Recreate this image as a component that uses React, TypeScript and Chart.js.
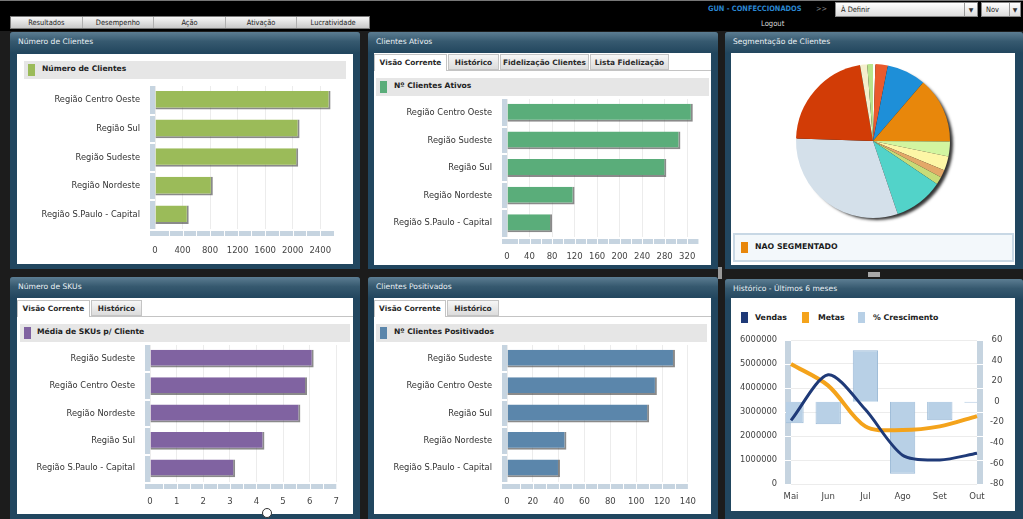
import React, { useEffect, useRef } from 'react';
import { Chart, registerables } from 'chart.js';

Chart.register(...registerables);

const FONT = "'DejaVu Sans', Verdana, sans-serif";
const NARROW = "'DejaVu Sans Condensed', 'Liberation Sans Narrow', 'DejaVu Sans', sans-serif";
Chart.defaults.font.family = FONT;

// ---------- DATA ----------
const navItems = ['Resultados', 'Desempenho', 'Ação', 'Ativação', 'Lucratividade'];

const clientesRegioes = ['Região Centro Oeste', 'Região Sul', 'Região Sudeste', 'Região Nordeste', 'Região S.Paulo - Capital'];
const clientesValores = [2550, 2100, 2080, 840, 490];

const ativosRegioes = ['Região Centro Oeste', 'Região Sudeste', 'Região Sul', 'Região Nordeste', 'Região S.Paulo - Capital'];
const ativosValores = [330, 308, 283, 120, 80];

const skuRegioes = ['Região Sudeste', 'Região Centro Oeste', 'Região Nordeste', 'Região Sul', 'Região S.Paulo - Capital'];
const skuValores = [6.15, 5.9, 5.65, 4.3, 3.2];

const positivadosRegioes = ['Região Sudeste', 'Região Centro Oeste', 'Região Sul', 'Região Nordeste', 'Região S.Paulo - Capital'];
const positivadosValores = [130, 116, 110, 46, 41];

const segmentosLabels = ['Seg 1', 'Seg 2', 'Seg 3', 'NAO SEGMENTADO', 'Seg 5', 'Seg 6', 'Seg 7', 'Seg 8', 'Seg 9', 'Seg 10', 'Seg 11', 'Seg 12', 'Seg 13'];
const segmentosValores = [5, 26, 82, 138, 31, 30, 16, 16, 104, 307, 218, 15, 12];
const segmentosCores = ['#ffffff', '#ea5a2c', '#1e8fd8', '#e8870b', '#d2f5a0', '#fdf6a6', '#e3a868', '#c8dc78', '#52d3c9', '#d4e0ea', '#d23c06', '#f4efcc', '#b9e58c'];

const meses = ['Mai', 'Jun', 'Jul', 'Ago', 'Set', 'Out'];
const vendas = [2650000, 4550000, 3100000, 1200000, 1000000, 1280000];
const metas = [5000000, 4100000, 2400000, 2250000, 2400000, 2830000];
const crescimento = [-21, -22, 50, -70, -18, -1];

// ---------- PLUGINS ----------
const STRIP = '#c6d4e0';
const stripPlugin = {
  id: 'strips',
  beforeDatasetsDraw(chart: any, _a: any, o: any) {
    if (!o || !o.mode) return;
    const { ctx, chartArea: a } = chart;
    ctx.save();
    if (o.mode === 'hbar') {
      const n = chart.data.labels.length;
      const w = 5;
      ctx.fillStyle = STRIP;
      ctx.fillRect(a.left - w, a.top, w, a.bottom - a.top);
      ctx.fillRect(a.left - w, a.bottom + 2, a.right - a.left + w, 5);
      ctx.fillStyle = '#ffffff';
      for (let k = 1; k < n; k++) {
        const y = a.top + (k * (a.bottom - a.top)) / n;
        ctx.fillRect(a.left - w, Math.round(y) - 1, w, 2);
      }
      const xs = chart.scales.x;
      for (let v = o.sep; v < xs.max; v += o.sep) {
        const x = xs.getPixelForValue(v);
        ctx.fillRect(Math.round(x), a.bottom + 2, 1, 5);
      }
    } else if (o.mode === 'combo') {
      const w = 6;
      ctx.fillStyle = STRIP;
      ctx.fillRect(a.left - w, a.top, w, a.bottom - a.top);
      ctx.fillRect(a.right, a.top, w, a.bottom - a.top);
      ctx.fillStyle = '#ffffff';
      const ys = chart.scales.y;
      ys.ticks.forEach((t: any) => {
        const y = Math.round(ys.getPixelForValue(t.value));
        ctx.fillRect(a.left - w, y, w, 1);
        ctx.fillRect(a.right, y, w, 1);
      });
    }
    ctx.restore();
  },
};

const pieShadow = {
  id: 'pieShadow',
  beforeDatasetsDraw(chart: any) {
    const arc = chart.getDatasetMeta(0).data[0];
    if (!arc) return;
    const { x, y, outerRadius } = arc.getProps(['x', 'y', 'outerRadius'], true);
    const ctx = chart.ctx;
    ctx.save();
    ctx.shadowColor = 'rgba(0,0,0,0.8)';
    ctx.shadowBlur = 3;
    ctx.shadowOffsetX = 4;
    ctx.shadowOffsetY = 3;
    ctx.beginPath();
    ctx.arc(x, y, outerRadius - 1, 0, Math.PI * 2);
    ctx.fillStyle = '#111';
    ctx.fill();
    ctx.restore();
  },
};

const plain = (v: any) => String(v);
const noPad = (s: any) => { s.paddingTop = 0; s.paddingBottom = 0; };

// ---------- CONFIG BUILDERS ----------
function hbar(labels: string[], values: number[], color: string, max: number, step: number, yWidth: number, xHeight: number, pad: any, tickPad: number) {
  return {
    type: 'bar',
    data: {
      labels,
      datasets: [
        {
          data: values,
          backgroundColor: color,
          borderColor: 'rgba(75,75,75,0.65)',
          borderWidth: { top: 0, left: 0, right: 2, bottom: 2 },
          borderSkipped: false,
          barPercentage: 0.65,
          categoryPercentage: 1,
        },
      ],
    },
    options: {
      indexAxis: 'y',
      animation: false,
      responsive: false,
      maintainAspectRatio: false,
      layout: { padding: pad },
      plugins: { legend: { display: false }, tooltip: { enabled: false }, strips: { mode: 'hbar', sep: step / 2 } },
      scales: {
        x: {
          min: 0,
          max,
          ticks: { stepSize: step, includeBounds: false, padding: tickPad, color: '#444', font: { size: 8.5 }, maxRotation: 0, callback: plain },
          grid: { color: '#ececec', drawTicks: false },
          border: { display: false },
          afterFit: (s: any) => { s.height = xHeight; },
        },
        y: {
          ticks: { color: '#333', font: { size: 8.3 }, padding: 15 },
          grid: { display: false, drawTicks: false },
          border: { display: false },
          afterFit: (s: any) => { s.width = yWidth; noPad(s); },
        },
      },
    },
    plugins: [stripPlugin],
  };
}

function pieConfig() {
  return {
    type: 'pie',
    data: {
      labels: segmentosLabels,
      datasets: [{ data: segmentosValores, backgroundColor: segmentosCores, borderWidth: 0 }],
    },
    options: {
      animation: false,
      responsive: false,
      maintainAspectRatio: false,
      layout: { padding: { top: 10, bottom: 12, left: 0, right: 0 } },
      plugins: { legend: { display: false }, tooltip: { enabled: false } },
    },
    plugins: [pieShadow],
  };
}

function comboConfig() {
  return {
    type: 'bar',
    data: {
      labels: meses,
      datasets: [
        {
          type: 'line',
          label: 'Vendas',
          data: vendas,
          borderColor: '#1f3a78',
          backgroundColor: '#1f3a78',
          borderWidth: 3,
          pointRadius: 0,
          tension: 0.28,
          yAxisID: 'y',
          order: 1,
        },
        {
          type: 'line',
          label: 'Metas',
          data: metas,
          borderColor: '#f4a31b',
          backgroundColor: '#f4a31b',
          borderWidth: 4,
          pointRadius: 0,
          tension: 0.32,
          yAxisID: 'y',
          order: 2,
        },
        {
          type: 'bar',
          label: '% Crescimento',
          data: crescimento,
          backgroundColor: '#b8d0e6',
          borderColor: '#9ab9d6',
          borderWidth: 1,
          barPercentage: 0.68,
          categoryPercentage: 1,
          yAxisID: 'y1',
          clip: { left: 5, right: 0, top: 0, bottom: 0 },
          order: 3,
        },
      ],
    },
    options: {
      animation: false,
      responsive: false,
      maintainAspectRatio: false,
      layout: { padding: { top: 10, left: 0, right: 0, bottom: 0 } },
      plugins: { legend: { display: false }, tooltip: { enabled: false }, strips: { mode: 'combo' } },
      scales: {
        x: {
          offset: false,
          grid: { display: false, drawTicks: false },
          border: { display: false },
          ticks: { color: '#444', font: { size: 8.5 }, padding: 8, maxRotation: 0 },
          afterFit: (s: any) => { s.height = 24; },
        },
        y: {
          position: 'left',
          min: 0,
          max: 6000000,
          ticks: { stepSize: 1000000, color: '#444', font: { size: 8.3 }, padding: 14, callback: plain },
          grid: { color: '#ececec', drawTicks: false },
          border: { display: false },
          afterFit: (s: any) => { s.width = 60; noPad(s); },
        },
        y1: {
          position: 'right',
          min: -80,
          max: 60,
          ticks: { stepSize: 20, color: '#444', font: { size: 8.5 }, padding: 13, crossAlign: 'center', callback: plain },
          grid: { display: false, drawTicks: false },
          border: { display: false },
          afterFit: (s: any) => { s.width = 38; noPad(s); },
        },
      },
    },
    plugins: [stripPlugin],
  };
}

// ---------- COMPONENTS ----------
function ChartCanvas({ x, y, w, h, make }: any) {
  const ref = useRef<HTMLCanvasElement | null>(null);
  useEffect(() => {
    const c = new Chart(ref.current as any, make() as any);
    return () => c.destroy();
  }, []);
  return (
    <canvas
      ref={ref}
      width={w}
      height={h}
      style={{ position: 'absolute', left: x, top: y, width: w, height: h }}
    />
  );
}

function Panel({ x, y, w, h, title }: any) {
  return (
    <div style={{ position: 'absolute', left: x, top: y, width: w, height: h, background: '#21465f', borderRadius: '3px 3px 0 0' }}>
      <div
        style={{
          position: 'absolute', left: 0, top: 0, width: w, height: 21,
          background: 'linear-gradient(#5c7d92 0%, #36596f 45%, #22465e 100%)',
          borderRadius: '3px 3px 0 0',
        }}
      />
      <div style={{ position: 'absolute', left: 8, top: 5, color: '#e9f0f4', fontSize: 7.6, fontFamily: FONT, whiteSpace: 'nowrap' }}>{title}</div>
    </div>
  );
}

function White({ x, y, w, h }: any) {
  return <div style={{ position: 'absolute', left: x, top: y, width: w, height: h, background: '#fff' }} />;
}

function LegendStrip({ x, y, w, color, text, textX }: any) {
  return (
    <div style={{ position: 'absolute', left: x, top: y, width: w, height: 18, background: '#e6e6e6' }}>
      <div style={{ position: 'absolute', left: 4, top: 3, width: 7, height: 12, background: color }} />
      <div style={{ position: 'absolute', left: textX, top: 3, fontSize: 7.6, fontWeight: 'bold', color: '#222', fontFamily: FONT, whiteSpace: 'nowrap' }}>{text}</div>
    </div>
  );
}

function Tabs({ x, y, w, tabs }: any) {
  return (
    <div style={{ position: 'absolute', left: x, top: y, width: w, height: 17 }}>
      <div style={{ position: 'absolute', left: 0, top: 16, width: w, height: 1, background: '#c4c4c4' }} />
      {tabs.map((t: any, i: number) => (
        <div
          key={i}
          style={{
            position: 'absolute', left: t[1] - x, top: 0, width: t[2] - t[1] - 1, height: i === 0 ? 17 : 16,
            background: i === 0 ? '#ffffff' : 'linear-gradient(#f6f6f6, #dcdcdc)',
            border: '1px solid #c4c4c4', borderBottom: i === 0 ? 'none' : '1px solid #c4c4c4',
            boxSizing: 'border-box', fontSize: 7.4, fontWeight: 'bold', color: '#2a2a2a', fontFamily: FONT,
            textAlign: 'center', lineHeight: '15px', whiteSpace: 'nowrap',
          }}
        >
          {t[0]}
        </div>
      ))}
    </div>
  );
}

export default function App() {
  useEffect(() => {
    document.body.style.margin = '0';
  }, []);

  return (
    <div style={{ position: 'fixed', left: 0, top: 0, width: 1023, height: 519, background: '#1c1c1c', overflow: 'hidden', fontFamily: FONT }}>
      {/* top bar */}
      <div style={{ position: 'absolute', left: 0, top: 0, width: 1023, height: 31, background: '#000' }} />
      <div style={{ position: 'absolute', left: 0, top: 0, width: 1023, height: 1, background: '#777' }} />
      <div style={{ position: 'absolute', left: 10, top: 16, width: 360, height: 13, background: 'linear-gradient(#f7f7f7, #c9c9c9)', border: '1px solid #7a7a7a', boxSizing: 'border-box', display: 'flex' }}>
        {navItems.map((n, i) => (
          <div key={i} style={{ width: 72, textAlign: 'center', fontSize: 7.4, lineHeight: '11px', color: '#222', fontFamily: NARROW, borderRight: i < navItems.length - 1 ? '1px solid #b0b0b0' : 'none', boxSizing: 'border-box' }}>{n}</div>
        ))}
      </div>
      <div style={{ position: 'absolute', left: 708, top: 4, fontSize: 7.4, fontWeight: 'bold', color: '#2a86d0', fontFamily: NARROW, whiteSpace: 'nowrap' }}>GUN - CONFECCIONADOS</div>
      <div style={{ position: 'absolute', left: 816, top: 4, fontSize: 7.4, color: '#888', fontFamily: NARROW }}>&gt;&gt;</div>
      <div style={{ position: 'absolute', left: 835, top: 2, width: 143, height: 15, background: 'linear-gradient(#ffffff, #dcdcdc)', border: '1px solid #888', boxSizing: 'border-box' }}>
        <div style={{ position: 'absolute', left: 5, top: 2, fontSize: 7.4, color: '#222', fontFamily: NARROW }}>À Definir</div>
        <div style={{ position: 'absolute', right: 0, top: 0, width: 12, height: 13, borderLeft: '1px solid #999', fontSize: 6, textAlign: 'center', lineHeight: '13px', color: '#333' }}>▼</div>
      </div>
      <div style={{ position: 'absolute', left: 981, top: 2, width: 40, height: 15, background: 'linear-gradient(#ffffff, #dcdcdc)', border: '1px solid #888', boxSizing: 'border-box' }}>
        <div style={{ position: 'absolute', left: 4, top: 2, fontSize: 7.4, color: '#222', fontFamily: NARROW }}>Nov</div>
        <div style={{ position: 'absolute', right: 0, top: 0, width: 10, height: 13, borderLeft: '1px solid #999', fontSize: 6, textAlign: 'center', lineHeight: '13px', color: '#333' }}>▼</div>
      </div>
      <div style={{ position: 'absolute', left: 761, top: 19, fontSize: 7.6, color: '#d8d8d8', fontFamily: NARROW }}>Logout</div>

      {/* panels */}
      <Panel x={10} y={32} w={350} h={237} title="Número de Clientes" />
      <Panel x={368} y={32} w={350} h={237} title="Clientes Ativos" />
      <Panel x={725} y={32} w={298} h={237} title="Segmentação de Clientes" />
      <Panel x={10} y={277} w={350} h={242} title="Número de SKUs" />
      <Panel x={368} y={277} w={350} h={242} title="Clientes Positivados" />
      <Panel x={725} y={279} w={298} h={240} title="Histórico - Últimos 6 meses" />

      {/* white content areas */}
      <White x={17} y={54} w={336} h={210} />
      <White x={374} y={53} w={337} h={212} />
      <White x={731} y={53} w={284} h={212} />
      <White x={17} y={298} w={336} h={216} />
      <White x={374} y={298} w={337} h={216} />
      <White x={731} y={298} w={284} h={213} />

      {/* panel 1 */}
      <LegendStrip x={24} y={61} w={322} color="#9bbb59" text="Número de Clientes" textX={18} />
      <ChartCanvas x={18} y={80} w={336} h={182}
        make={() => hbar(clientesRegioes, clientesValores, '#9bbb59', 2600, 400, 137, 33, { top: 6, right: 20, left: 0, bottom: 0 }, 17)} />

      {/* panel 2 */}
      <Tabs x={374} y={54} w={337} tabs={[['Visão Corrente', 374, 448], ['Histórico', 448, 500], ['Fidelização Clientes', 500, 590], ['Lista Fidelização', 590, 670]]} />
      <LegendStrip x={376} y={78} w={333} color="#5aad7a" text="Nº Clientes Ativos" textX={18} />
      <ChartCanvas x={375} y={93} w={336} h={172}
        make={() => hbar(ativosRegioes, ativosValores, '#5aad7a', 340, 40, 132, 28, { top: 6, right: 12, left: 0, bottom: 0 }, 15)} />

      {/* panel 3 */}
      <ChartCanvas x={731} y={54} w={284} h={176} make={pieConfig} />
      <div style={{ position: 'absolute', left: 733, top: 233, width: 281, height: 29, background: '#f3f8fb', border: '2px solid #c8d8e5', boxSizing: 'border-box' }}>
        <div style={{ position: 'absolute', left: 6, top: 7, width: 7, height: 11, background: segmentosCores[3] }} />
        <div style={{ position: 'absolute', left: 20, top: 7, fontSize: 7.8, fontWeight: 'bold', color: '#1a1a1a', whiteSpace: 'nowrap' }}>{segmentosLabels[3]}</div>
      </div>

      {/* panel 4 */}
      <Tabs x={17} y={300} w={336} tabs={[['Visão Corrente', 17, 91], ['Histórico', 91, 143]]} />
      <LegendStrip x={20} y={324} w={330} color="#8063a1" text="Média de SKUs p/ Cliente" textX={17} />
      <ChartCanvas x={18} y={339} w={336} h={174}
        make={() => hbar(skuRegioes, skuValores, '#8063a1', 7, 1, 132, 31, { top: 6, right: 7, left: 0, bottom: 0 }, 15)} />

      {/* panel 5 */}
      <Tabs x={374} y={300} w={337} tabs={[['Visão Corrente', 374, 447], ['Histórico', 447, 500]]} />
      <LegendStrip x={376} y={324} w={331} color="#5b86ab" text="Nº Clientes Positivados" textX={18} />
      <ChartCanvas x={375} y={339} w={336} h={174}
        make={() => hbar(positivadosRegioes, positivadosValores, '#5b86ab', 140, 20, 132, 31, { top: 6, right: 13, left: 0, bottom: 0 }, 15)} />

      {/* panel 6 */}
      <div style={{ position: 'absolute', left: 741, top: 312, width: 7, height: 11, background: '#1f3a78' }} />
      <div style={{ position: 'absolute', left: 755, top: 313, fontSize: 7.8, fontWeight: 'bold', color: '#222' }}>Vendas</div>
      <div style={{ position: 'absolute', left: 802, top: 312, width: 7, height: 11, background: '#f4a31b' }} />
      <div style={{ position: 'absolute', left: 818, top: 313, fontSize: 7.8, fontWeight: 'bold', color: '#222' }}>Metas</div>
      <div style={{ position: 'absolute', left: 858, top: 312, width: 7, height: 11, background: '#b8d0e6' }} />
      <div style={{ position: 'absolute', left: 873, top: 313, fontSize: 7.8, fontWeight: 'bold', color: '#222' }}>% Crescimento</div>
      <ChartCanvas x={731} y={330} w={284} h={178} make={comboConfig} />

      {/* small decorations */}
      <div style={{ position: 'absolute', left: 718, top: 267, width: 4, height: 12, background: '#9a9a9a' }} />
      <div style={{ position: 'absolute', left: 868, top: 272, width: 12, height: 5, background: '#a8a8a8' }} />
      <div style={{ position: 'absolute', left: 262, top: 508, width: 10, height: 10, borderRadius: 6, background: '#fff', border: '1px solid #333', boxSizing: 'border-box' }} />
    </div>
  );
}
